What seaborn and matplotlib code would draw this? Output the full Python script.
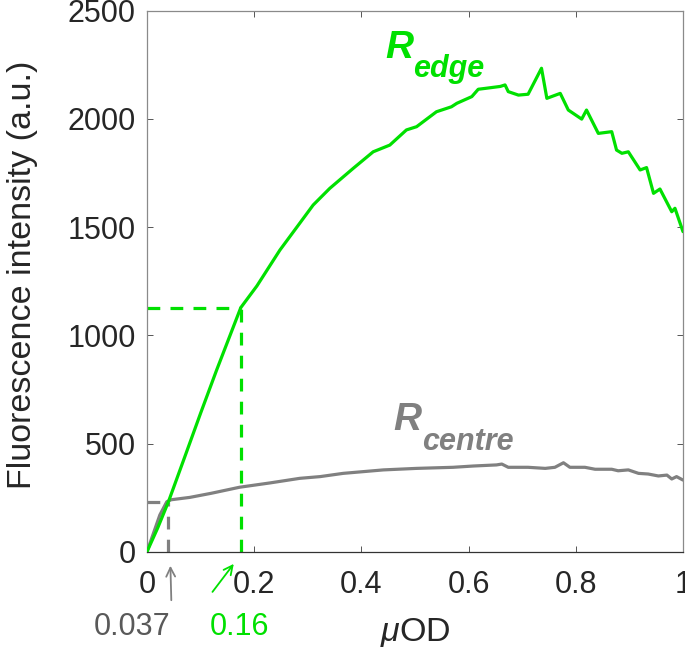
import matplotlib
matplotlib.use("Agg")
import matplotlib.pyplot as plt
import seaborn as sns
import pandas as pd

# ---- data ----
edge_x = [0, 0.02, 0.04, 0.07, 0.10, 0.13, 0.155, 0.175, 0.205, 0.248,
          0.285, 0.310, 0.341, 0.385, 0.422, 0.453, 0.484, 0.503, 0.540, 0.568,
          0.578, 0.606, 0.618, 0.631, 0.659, 0.668, 0.674, 0.693, 0.711, 0.736,
          0.746, 0.771, 0.786, 0.811, 0.820, 0.842, 0.867, 0.876, 0.886, 0.898,
          0.920, 0.932, 0.945, 0.957, 0.979, 0.985, 1.0]
edge_y = [0, 110, 231, 435, 640, 840, 1000, 1128, 1228, 1394,
          1518, 1602, 1679, 1772, 1848, 1879, 1949, 1964, 2033, 2056,
          2072, 2103, 2137, 2141, 2150, 2157, 2126, 2110, 2114, 2234,
          2095, 2118, 2041, 1999, 2041, 1933, 1941, 1856, 1841, 1848,
          1764, 1775, 1656, 1676, 1571, 1587, 1479]

centre_x = [0, 0.012, 0.024, 0.037, 0.045, 0.08, 0.12, 0.173, 0.23, 0.285, 0.323,
            0.366, 0.441, 0.503, 0.571, 0.609, 0.652, 0.662, 0.674, 0.711, 0.743,
            0.761, 0.777, 0.789, 0.817, 0.836, 0.867, 0.879, 0.898, 0.917, 0.935,
            0.954, 0.970, 0.979, 0.988, 1.0]
centre_y = [0, 85, 170, 231, 240, 251, 270, 298, 318, 339, 347,
            362, 378, 385, 390, 396, 401, 405, 390, 390, 385,
            390, 411, 390, 390, 381, 381, 374, 378, 362, 359,
            350, 354, 336, 347, 331]

# threshold markers (dashed guides): x position and intensity level
thr_x = [0.040, 0.175]
thr_y = [231, 1128]
thr_labels = ["0.037", "0.16"]

x_ticks = [0, 0.2, 0.4, 0.6, 0.8, 1]
x_tick_labels = ["0", "0.2", "0.4", "0.6", "0.8", "1"]
y_ticks = [0, 500, 1000, 1500, 2000, 2500]

GREEN = "#00e000"
GRAY = "#808080"
DARKGRAY = "#595959"
TXT = "#262626"

sns.set_style("ticks")
plt.rcParams["font.family"] = ["Liberation Sans", "DejaVu Sans"]
plt.rcParams["mathtext.fontset"] = "custom"
plt.rcParams["mathtext.it"] = "Liberation Sans:italic"
plt.rcParams["mathtext.rm"] = "Liberation Sans"

FS = 22
LFS = 24.5

fig = plt.figure(figsize=(6.85, 6.48), dpi=100)
ax = fig.add_axes([147 / 685, 1 - 551.7 / 648, (683 - 147) / 685, (551.7 - 10.7) / 648])

edge_df = pd.DataFrame({"x": edge_x, "y": edge_y})
centre_df = pd.DataFrame({"x": centre_x, "y": centre_y})

sns.lineplot(data=centre_df, x="x", y="y", color=GRAY, lw=2.3, estimator=None, ax=ax, zorder=3)
sns.lineplot(data=edge_df, x="x", y="y", color=GREEN, lw=2.3, estimator=None, ax=ax, zorder=4)

# dashed guides
dash = (0, (4, 3.2))
ax.plot([0, thr_x[0]], [thr_y[0], thr_y[0]], color=GRAY, lw=2.3, ls=dash, zorder=2)
ax.plot([thr_x[0], thr_x[0]], [0, thr_y[0]], color=GRAY, lw=2.3, ls=dash, zorder=2)
ax.plot([0, thr_x[1]], [thr_y[1], thr_y[1]], color=GREEN, lw=2.3, ls=dash, zorder=2)
ax.plot([thr_x[1], thr_x[1]], [0, thr_y[1]], color=GREEN, lw=2.3, ls=dash, zorder=2)

ax.set_xlim(0, 1)
ax.set_ylim(0, 2500)
ax.set_xticks(x_ticks)
ax.set_xticklabels(x_tick_labels)
ax.set_yticks(y_ticks)
ax.tick_params(axis="both", which="both", direction="in", length=4, width=0.7,
               colors="#555555", labelcolor=TXT, labelsize=FS, top=True, right=True)
ax.tick_params(axis="x", pad=13)
ax.tick_params(axis="y", pad=8)
for side in ["left", "top", "right"]:
    ax.spines[side].set_color("#8a8a8a")
    ax.spines[side].set_linewidth(0.9)
ax.spines["bottom"].set_color("#333333")
ax.spines["bottom"].set_linewidth(0.9)

ax.set_xlabel(r"$\mathit{\mu}$OD", fontsize=LFS, color=TXT, va="baseline")
ax.xaxis.set_label_coords(0.5, -(641 - 551.7) / 541)
ax.set_ylabel("Fluorescence intensity (a.u.)", fontsize=LFS, color=TXT, va="center")
ax.yaxis.set_label_coords((22 - 147) / 536, (551.7 - 275) / 541)

# curve labels
ax.text(0.444, 2280, "R", color=GREEN, fontsize=28, fontweight="bold", style="italic")
ax.text(0.497, 2192, "edge", color=GREEN, fontsize=22, fontweight="bold", style="italic")
ax.text(0.459, 562, "R", color=GRAY, fontsize=28, fontweight="bold", style="italic")
ax.text(0.5125, 468, "centre", color=GRAY, fontsize=22, fontweight="bold", style="italic")

# threshold labels below the axis
ax.text(-0.028, -386, thr_labels[0], color=DARKGRAY, fontsize=FS, ha="center",
        va="baseline", clip_on=False)
ax.text(thr_x[1] - 0.0015, -386, thr_labels[1], color=GREEN, fontsize=FS, ha="center",
        va="baseline", clip_on=False)
ax.annotate("", xy=(0.0435, -52), xytext=(0.0455, -237),
            arrowprops=dict(arrowstyle="->", color=GRAY, lw=1.3, mutation_scale=16),
            annotation_clip=False)
ax.annotate("", xy=(0.165, -46), xytext=(0.119, -196),
            arrowprops=dict(arrowstyle="->", color=GREEN, lw=1.3, mutation_scale=16),
            annotation_clip=False)

fig.savefig("out.png", dpi=100)
